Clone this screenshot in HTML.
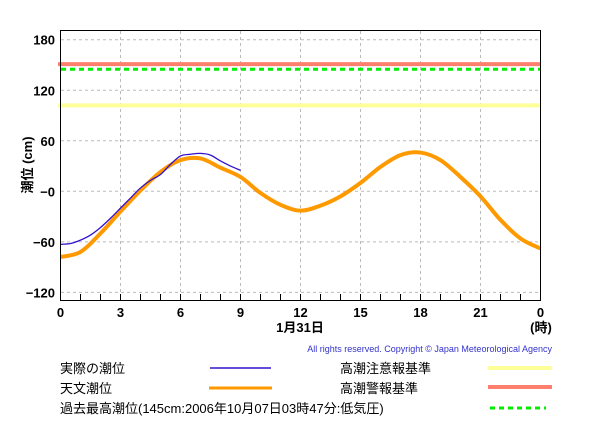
<!DOCTYPE html>
<html><head><meta charset="utf-8"><style>
body{margin:0;background:#fff;width:600px;height:440px;overflow:hidden}
svg text{font-family:"Liberation Sans","Noto Sans CJK JP",sans-serif}
</style></head><body>
<svg width="600" height="440">
<g id="grid"></g>
<g id="refs"></g>
<g id="series"></g>
<rect x="60.5" y="30.5" width="480" height="270" fill="none" stroke="#000" stroke-width="1"/>
<g id="axes"></g>
<text x="0" y="0" transform="translate(32,165) rotate(-90)" text-anchor="middle" font-size="13" font-weight="bold">潮位 (cm)</text>
<text x="300" y="332" text-anchor="middle" font-size="13" font-weight="bold">1月31日</text>
<text x="541" y="332" text-anchor="middle" font-size="13" font-weight="bold">(時)</text>
<text x="552" y="352" text-anchor="end" font-size="9" fill="#3333cc">All rights reserved. Copyright © Japan Meteorological Agency</text>
<g font-size="13">
<text x="60" y="373">実際の潮位</text>
<line x1="210" y1="368" x2="271" y2="368" stroke="#3311cc" stroke-width="1.5"/>
<text x="60" y="393">天文潮位</text>
<line x1="209" y1="388" x2="272" y2="388" stroke="#ff9900" stroke-width="3"/>
<text x="340" y="373">高潮注意報基準</text>
<line x1="488" y1="368" x2="552" y2="368" stroke="#ffff99" stroke-width="4"/>
<text x="340" y="393">高潮警報基準</text>
<line x1="488" y1="387" x2="552" y2="387" stroke="#ff7f6e" stroke-width="4"/>
<text x="60" y="413">過去最高潮位(145cm:2006年10月07日03時47分:低気圧)</text>
<line x1="490" y1="408" x2="546" y2="408" stroke="#00ee00" stroke-width="3" stroke-dasharray="5,4"/>
</g>
</svg>
<script>
const xTicks=[0,3,6,9,12,15,18,21,24];
const xTickLabels=["0","3","6","9","12","15","18","21","0"];
const yTicks=[180,120,60,0,-60,-120];
const yTickLabels=["180","120","60","−0","−60","−120"];
const astroHours=[0,1,2,3,4,5,6,7,8,9,10,11,12,13,14,15,16,17,18,19,20,21,22,23,24];
const astroValues=[-78,-72,-50,-24,1,23,37,39,28,17,-2,-16,-23,-17,-6,10,29,43,46,37,17,-6,-34,-56,-68];
const obsHours=[0,0.5,1,1.5,2,2.5,3,3.5,4,4.5,5,5.5,6,6.5,7,7.5,8,8.5,9];
const obsValues=[-63,-62,-58,-52,-43,-32,-20,-8,4,13,20,32,42,44,45,43,36,30,25];
const advisoryLevel=102;
const warningLevel=151;
const recordLevel=145;
const NS="http://www.w3.org/2000/svg";
const X=h=>60.5+h*20;
const Y=v=>191.3-v*0.842;
function mk(parent,tag,attrs){const e=document.createElementNS(NS,tag);for(const k in attrs)e.setAttribute(k,attrs[k]);document.getElementById(parent).appendChild(e);return e;}
xTicks.forEach((t,i)=>{
 if(i>0&&i<xTicks.length-1){const g=mk('grid','line',{x1:X(t),y1:31,x2:X(t),y2:300,stroke:'#bbb','stroke-dasharray':'3,3'});
 
 }
 const l=mk('axes','text',{x:X(t),y:317,'text-anchor':'middle','font-size':13,'font-weight':'bold'});
 l.textContent=xTickLabels[i];
 
 
});
for(let h=1;h<24;h++){const t=mk('axes','line',{x1:X(h),y1:294,x2:X(h),y2:300,stroke:'#000'});
 
 }
yTicks.forEach((v,i)=>{
 const g=mk('grid','line',{x1:61,y1:Y(v),x2:540,y2:Y(v),stroke:'#bbb','stroke-dasharray':'3,3'});
 
 
 const l=mk('axes','text',{x:55,y:Y(v)+5,'text-anchor':'end','font-size':13,'font-weight':'bold'});
 l.textContent=yTickLabels[i];
 
 
});
const r1=mk('refs','line',{x1:58,x2:541,y1:Y(advisoryLevel),y2:Y(advisoryLevel),stroke:'#ffff99','stroke-width':4});


const r2=mk('refs','line',{x1:58,x2:541,y1:Y(warningLevel),y2:Y(warningLevel),stroke:'#ff7f6e','stroke-width':4});


const r3=mk('refs','line',{x1:61,x2:540,y1:Y(recordLevel),y2:Y(recordLevel),stroke:'#00ee00','stroke-width':3,'stroke-dasharray':'5,4'});


function path(hs,vs){let d='';const n=hs.length;
 const px=hs.map(X),py=vs.map(Y);
 d='M'+px[0]+','+py[0];
 for(let i=0;i<n-1;i++){const p0=i>0?i-1:i,p3=i+2<n?i+2:i+1;
  const c1x=px[i]+(px[i+1]-px[p0])/6,c1y=py[i]+(py[i+1]-py[p0])/6;
  const c2x=px[i+1]-(px[p3]-px[i])/6,c2y=py[i+1]-(py[p3]-py[i])/6;
  d+=' C'+c1x+','+c1y+' '+c2x+','+c2y+' '+px[i+1]+','+py[i+1];}
 return d;}
const a=mk('series','path',{d:path(astroHours,astroValues),fill:'none',stroke:'#ff9900','stroke-width':4});


const o=mk('series','path',{d:path(obsHours,obsValues),fill:'none',stroke:'#3311cc','stroke-width':1.3});


</script>
</body></html>
